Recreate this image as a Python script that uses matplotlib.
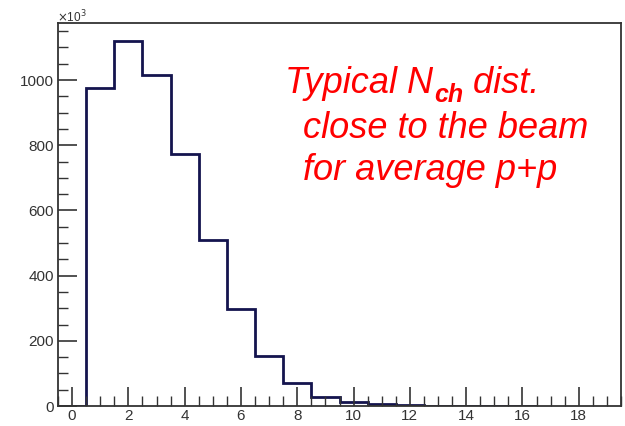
import matplotlib
matplotlib.use("Agg")
import matplotlib.pyplot as plt
import numpy as np
from matplotlib.ticker import MultipleLocator

# Data: N_ch bins (integer centres) and counts (in units of 10^3)
nch = [0, 1, 2, 3, 4, 5, 6, 7, 8, 9, 10, 11, 12, 13, 14, 15, 16]
counts = [0, 975, 1120, 1015, 773, 510, 298, 153, 70, 29, 13, 7, 3, 1.5, 0.8, 0.4, 0.2]

xticks = [0, 2, 4, 6, 8, 10, 12, 14, 16, 18]
yticks = [0, 200, 400, 600, 800, 1000]

W, H = 625, 426
fig = plt.figure(figsize=(W / 100, H / 100), dpi=100)
ax = fig.add_axes([58 / W, (H - 406) / H, (621 - 58) / W, (406 - 23) / H])

edges = np.append(np.array(nch) - 0.5, nch[-1] + 0.5)
ax.stairs(counts, edges, color="#14144e", linewidth=2.0)

ax.set_xlim(-0.5, 19.5)
ax.set_ylim(0, 1175)
ax.set_xticks(xticks)
ax.set_yticks(yticks)
ax.xaxis.set_minor_locator(MultipleLocator(0.5))
ax.yaxis.set_minor_locator(MultipleLocator(50))

tick_col = "#333333"
ax.tick_params(axis="both", which="major", direction="in", length=14, width=1.2,
               color=tick_col, labelsize=11, labelcolor="#333333")
ax.tick_params(axis="both", which="minor", direction="in", length=7, width=1.0, color=tick_col)
ax.tick_params(top=False, right=False, which="both")
ax.tick_params(axis="x", pad=2)
ax.tick_params(axis="y", pad=3)
for lab in ax.get_xticklabels() + ax.get_yticklabels():
    lab.set_family("Liberation Sans")
for s in ax.spines.values():
    s.set_color("#333333")
    s.set_linewidth(1.3)

fig.text(57 / W, 1 - 17 / H, r"$\times$10$^{3}$", fontsize=8.5, color="#333333",
         family="Liberation Sans", ha="left", va="center")

# Red annotation
red = "#ff0000"
fs = 26
fam = "Liberation Sans"
t1 = fig.text(285 / W, 1 - 93 / H, "Typical N", color=red, fontsize=fs, style="italic",
              family=fam, ha="left", va="baseline")
fig.canvas.draw()
r = fig.canvas.get_renderer()
bb = t1.get_window_extent(r)
t2 = fig.text(bb.x1 / W + 0.001, 1 - 102 / H, "ch", color=red, fontsize=18, style="italic",
              weight="bold", family=fam, ha="left", va="baseline")
fig.canvas.draw()
bb2 = t2.get_window_extent(r)
fig.text(bb2.x1 / W, 1 - 93 / H, " dist.", color=red, fontsize=fs, style="italic",
         family=fam, ha="left", va="baseline")
fig.text(303 / W, 1 - 138 / H, "close to the beam", color=red, fontsize=fs, style="italic",
         family=fam, ha="left", va="baseline")
fig.text(303 / W, 1 - 180 / H, "for average p+p", color=red, fontsize=fs, style="italic",
         family=fam, ha="left", va="baseline")

fig.savefig("out.png", dpi=100, facecolor="white")
